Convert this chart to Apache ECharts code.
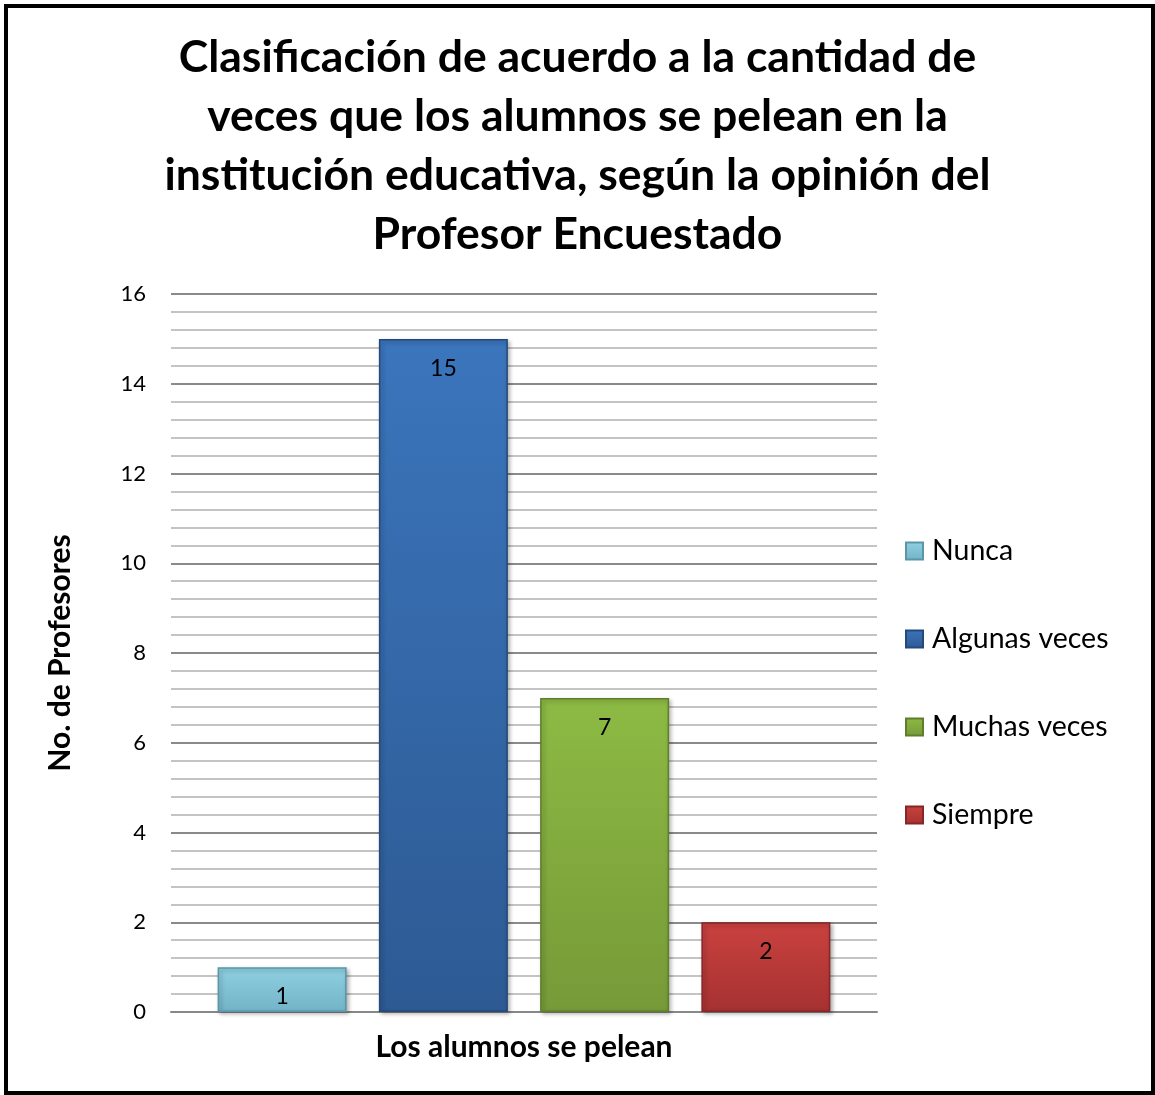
<!DOCTYPE html>
<html>
<head>
<meta charset="utf-8">
<script src="https://cdn.jsdelivr.net/npm/echarts@6/dist/echarts.min.js"></script>
<style>
html,body{margin:0;padding:0;background:#fff;}
#chart{width:1155px;height:1095px;}
</style>
</head>
<body>
<div id="chart"></div>
<script>
const titleText = 'Clasificación de acuerdo a la cantidad de\nveces que los alumnos se pelean en la\ninstitución educativa, según la opinión del\nProfesor Encuestado';
const category = ['Los alumnos se pelean'];
const seriesNames = ['Nunca', 'Algunas veces', 'Muchas veces', 'Siempre'];
const seriesValues = [1, 15, 7, 2];
const yTicks = [0, 2, 4, 6, 8, 10, 12, 14, 16];
const xAxisTitle = 'Los alumnos se pelean';
const yAxisTitle = 'No. de Profesores';

// [top, bottom, border]
const colors = [
  ['#8fd0e2', '#72b3c7', '#5a96a8'],
  ['#3b75bc', '#2d5a93', '#24497a'],
  ['#8dba44', '#769a38', '#5f7d2c'],
  ['#c9423f', '#a63131', '#862626']
];
const FONT = 'Lato, "Open Sans", sans-serif';

const chart = echarts.init(document.getElementById('chart'), null, {renderer: 'canvas'});
const series = seriesNames.map((name, i) => ({
  name: name,
  type: 'bar',
  barWidth: 129,
  barGap: '25%',
  data: [seriesValues[i]],
  itemStyle: {
    color: new echarts.graphic.LinearGradient(0, 0, 0, 1, [
      {offset: 0, color: colors[i][0]},
      {offset: 1, color: colors[i][1]}
    ]),
    borderColor: colors[i][2],
    borderWidth: 1.5,
    shadowColor: 'rgba(0,0,0,0.3)',
    shadowBlur: 4,
    shadowOffsetX: 2,
    shadowOffsetY: 2
  },
  label: {
    show: true,
    position: 'insideTop',
    distance: 18,
    color: '#000',
    fontSize: 23,
    fontFamily: FONT
  }
}));

chart.setOption({
  animation: false,
  color: colors.map(c => c[1]),
  title: {
    text: titleText,
    left: 'center',
    top: 23,
    textStyle: {
      fontFamily: FONT,
      fontWeight: 'bold',
      fontSize: 44.5,
      lineHeight: 59,
      color: '#000'
    }
  },
  legend: {
    orient: 'vertical',
    left: 900,
    top: 531,
    itemGap: 58,
    itemWidth: 17,
    itemHeight: 17,
    icon: 'rect',
    textStyle: {fontFamily: FONT, fontSize: 28.5, lineHeight: 30, color: '#000', padding: [0, 0, 0, 4]},
    data: seriesNames
  },
  grid: {left: 171, right: 278, top: 294, bottom: 83},
  xAxis: {
    type: 'category',
    data: category,
    name: xAxisTitle,
    nameLocation: 'middle',
    nameGap: 20,
    nameTextStyle: {fontFamily: FONT, fontWeight: 'bold', fontSize: 30, color: '#000'},
    axisLine: {lineStyle: {color: '#888', width: 2}},
    axisTick: {show: false},
    axisLabel: {show: false}
  },
  yAxis: {
    type: 'value',
    min: yTicks[0],
    max: yTicks[yTicks.length - 1],
    interval: 2,
    name: yAxisTitle,
    nameLocation: 'middle',
    nameGap: 96,
    nameTextStyle: {fontFamily: FONT, fontWeight: 'bold', fontSize: 30, color: '#000'},
    axisLine: {show: false},
    axisTick: {show: false},
    axisLabel: {fontFamily: FONT, fontSize: 22, color: '#000', margin: 25},
    splitLine: {lineStyle: {color: '#8a8a8a', width: 2}},
    minorTick: {show: false, splitNumber: 5},
    minorSplitLine: {show: true, lineStyle: {color: '#c4c4c4', width: 2}}
  },
  graphic: [{
    type: 'rect',
    shape: {x: 6, y: 6, width: 1147, height: 1087},
    style: {fill: 'none', stroke: '#000', lineWidth: 4},
    silent: true
  }],
  series: series
});
</script>
</body>
</html>
